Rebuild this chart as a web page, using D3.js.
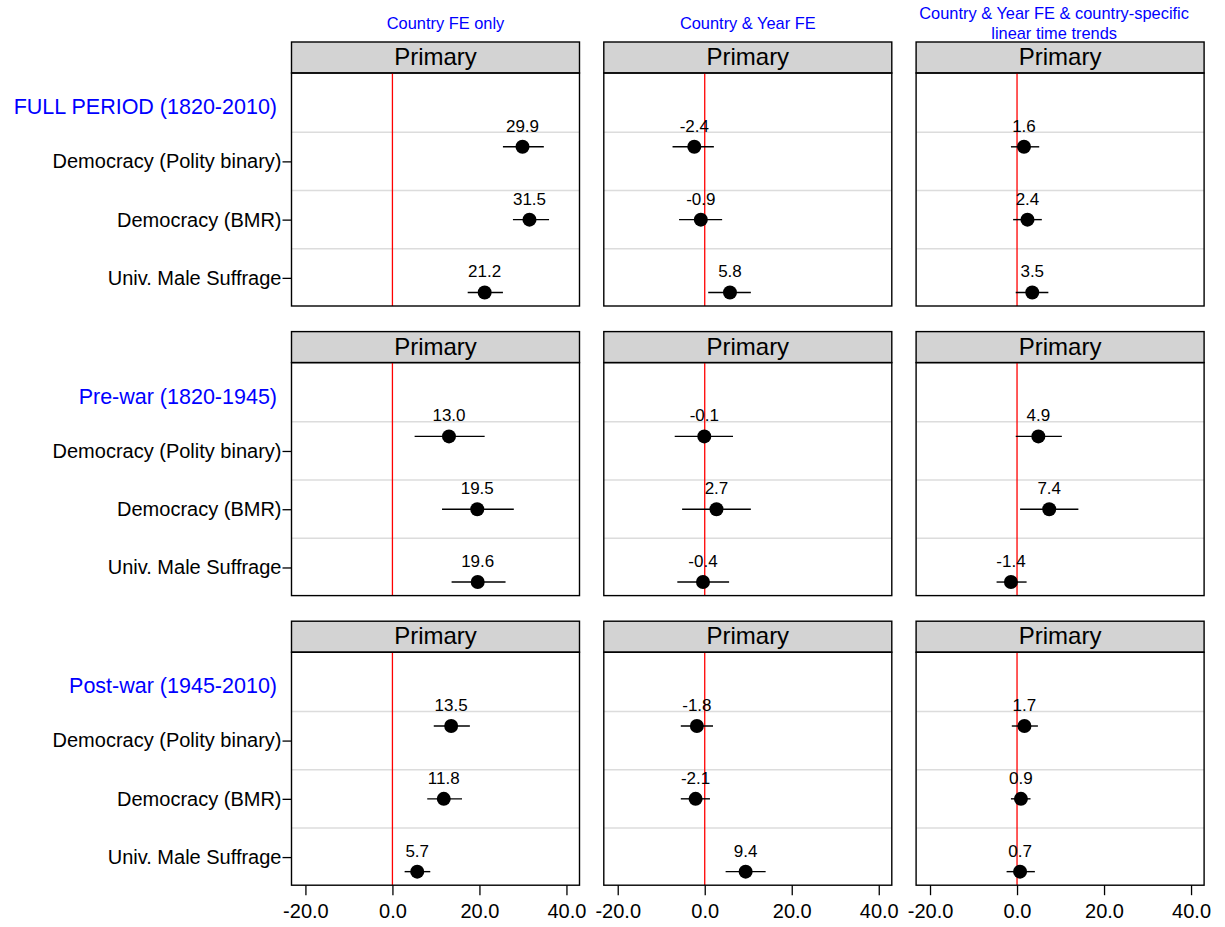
<!DOCTYPE html>
<html>
<head>
<meta charset="utf-8">
<script src="https://cdn.jsdelivr.net/npm/d3@7"></script>
<style>
  html, body { margin: 0; padding: 0; background: #fff; }
  svg { display: block; font-family: "Liberation Sans", Arial, sans-serif; }
</style>
</head>
<body>
<svg id="chart" width="1225" height="927"></svg>
<script>
// Column headings (model specifications); the last one wraps onto two lines
const specifications = [
  ["Country FE only"],
  ["Country & Year FE"],
  ["Country & Year FE & country-specific", "linear time trends"]
];
// Row headings (sample periods)
const periods = ["FULL PERIOD (1820-2010)", "Pre-war (1820-1945)", "Post-war (1945-2010)"];
// Regressors shown in each panel
const outcomes = ["Democracy (Polity binary)", "Democracy (BMR)", "Univ. Male Suffrage"];
const stripLabel = "Primary";
const xTicks = [-20, 0, 20, 40];

// Point estimates: [period][specification][outcome]
const estimates = [
  [[29.9, 31.5, 21.2], [-2.4, -0.9, 5.8], [1.6, 2.4, 3.5]],
  [[13.0, 19.5, 19.6], [-0.1, 2.7, -0.4], [4.9, 7.4, -1.4]],
  [[13.5, 11.8, 5.7], [-1.8, -2.1, 9.4], [1.7, 0.9, 0.7]]
];
// Confidence interval bounds, same layout
const ciLower = [
  [[25.4, 27.7, 17.3], [-7.4, -5.9, 0.8], [-1.4, -0.9, -0.3]],
  [[5.1, 11.4, 13.6], [-6.9, -5.2, -6.3], [-0.3, 0.7, -4.7]],
  [[9.5, 8.0, 2.8], [-5.5, -5.5, 4.8], [-1.2, -1.4, -2.4]]
];
const ciUpper = [
  [[34.8, 36.0, 25.4], [2.1, 4.0, 10.6], [5.1, 5.7, 7.2]],
  [[21.2, 27.9, 26.0], [6.5, 10.6, 5.6], [10.3, 14.1, 2.2]],
  [[17.8, 16.0, 8.7], [1.9, 1.2, 14.0], [4.8, 3.1, 4.1]]
];

// ---- layout ----
const svg = d3.select("#chart");
const panelW = 288, stripH = 31, plotH = 233;
const colLeft = c => 291.5 + c * 312.3;
const rowTop = r => 42 + r * 289.6;
const titleShift = [10, 0, -6];

const fmt = d3.formatLocale({ decimal: ".", thousands: ",", grouping: [3], currency: ["", ""], minus: "-" }).format(".1f");

// Horizontal value scale shared by all panels (offset per column)
const x = d3.scaleLinear().domain([-23.2, 43.0]).range([0, panelW]);
// Vertical slot scale within a panel's plotting region
const y = d3.scaleLinear().domain([0, 16]).range([1, plotH + 1]);
const gridSlots = outcomes.map((d, i) => 4 + 4 * i);
const tickSlots = outcomes.map((d, i) => 6 + 4 * i);
const pointSlots = outcomes.map((d, i) => 5 + 5 * i);

svg.append("rect").attr("width", 1225).attr("height", 927).attr("fill", "#fff");

// Column titles
specifications.forEach((lines, c) => {
  const cx = colLeft(c) + panelW / 2 + titleShift[c];
  const t = svg.append("text")
    .attr("text-anchor", "middle")
    .attr("fill", "#0000ff")
    .attr("font-size", "16.4px");
  const firstBaseline = lines.length > 1 ? 18.5 : 29;
  lines.forEach((ln, k) => {
    t.append("tspan").attr("x", cx).attr("y", firstBaseline + k * 20).text(ln);
  });
});

periods.forEach((period, r) => {
  const top = rowTop(r);
  const plotTop = top + stripH;

  // Row heading
  svg.append("text")
    .attr("x", 277)
    .attr("y", plotTop + 41)
    .attr("text-anchor", "end")
    .attr("fill", "#0000ff")
    .attr("font-size", "21.5px")
    .text(period);

  specifications.forEach((spec, c) => {
    const g = svg.append("g").attr("transform", `translate(${colLeft(c)},${top})`);

    // Strip header
    g.append("rect")
      .attr("x", 0).attr("y", 0)
      .attr("width", panelW).attr("height", stripH)
      .attr("fill", "#d3d3d3")
      .attr("stroke", "#000").attr("stroke-width", 1.4);
    g.append("text")
      .attr("x", panelW / 2).attr("y", 23)
      .attr("text-anchor", "middle")
      .attr("font-size", "24px")
      .attr("fill", "#000")
      .text(stripLabel);

    const p = g.append("g").attr("transform", `translate(0,${stripH})`);

    // Gridlines between outcomes
    p.selectAll("line.grid").data(gridSlots).enter().append("line")
      .attr("class", "grid")
      .attr("x1", 0).attr("x2", panelW)
      .attr("y1", d => y(d)).attr("y2", d => y(d))
      .attr("stroke", "#dcdcdc").attr("stroke-width", 1.5);

    // Zero reference line
    p.append("line")
      .attr("x1", x(0)).attr("x2", x(0))
      .attr("y1", 0).attr("y2", plotH)
      .attr("stroke", "#ff0000").attr("stroke-width", 1.3);

    const rows = outcomes.map((o, i) => ({
      est: estimates[r][c][i],
      lo: ciLower[r][c][i],
      hi: ciUpper[r][c][i],
      slot: pointSlots[i]
    }));

    // Confidence intervals
    p.selectAll("line.ci").data(rows).enter().append("line")
      .attr("class", "ci")
      .attr("x1", d => x(d.lo)).attr("x2", d => x(d.hi))
      .attr("y1", d => y(d.slot)).attr("y2", d => y(d.slot))
      .attr("stroke", "#000").attr("stroke-width", 1.4);

    // Point estimates
    p.selectAll("circle.pt").data(rows).enter().append("circle")
      .attr("class", "pt")
      .attr("cx", d => x(d.est)).attr("cy", d => y(d.slot))
      .attr("r", 7)
      .attr("fill", "#000");

    // Value labels
    p.selectAll("text.val").data(rows).enter().append("text")
      .attr("class", "val")
      .attr("x", d => x(d.est)).attr("y", d => y(d.slot) - 15)
      .attr("text-anchor", "middle")
      .attr("font-size", "17px")
      .attr("fill", "#000")
      .text(d => fmt(d.est));

    // Left axis with outcome names (first column only)
    if (c === 0) {
      const ax = p.append("g").call(
        d3.axisLeft(y).tickValues(tickSlots).tickSize(9).tickPadding(1)
          .tickFormat((d, i) => outcomes[i])
      );
      ax.select(".domain").remove();
      ax.selectAll(".tick line").attr("stroke", "#000").attr("stroke-width", 1.3);
      ax.selectAll(".tick text")
        .attr("font-size", "20px")
        .attr("font-family", "Liberation Sans, Arial, sans-serif")
        .attr("fill", "#000");
    }

    // Bottom axis (last row only)
    if (r === periods.length - 1) {
      const ax = p.append("g").attr("transform", `translate(0,${plotH})`).call(
        d3.axisBottom(x).tickValues(xTicks).tickSize(10).tickPadding(9).tickFormat(fmt)
      );
      ax.select(".domain").remove();
      ax.selectAll(".tick line").attr("stroke", "#000").attr("stroke-width", 1.3);
      ax.selectAll(".tick text")
        .attr("font-size", "20px")
        .attr("font-family", "Liberation Sans, Arial, sans-serif")
        .attr("fill", "#000");
    }

    // Panel frame
    p.append("rect")
      .attr("x", 0).attr("y", 0)
      .attr("width", panelW).attr("height", plotH)
      .attr("fill", "none")
      .attr("stroke", "#000").attr("stroke-width", 1.4);
  });
});
</script>
</body>
</html>
